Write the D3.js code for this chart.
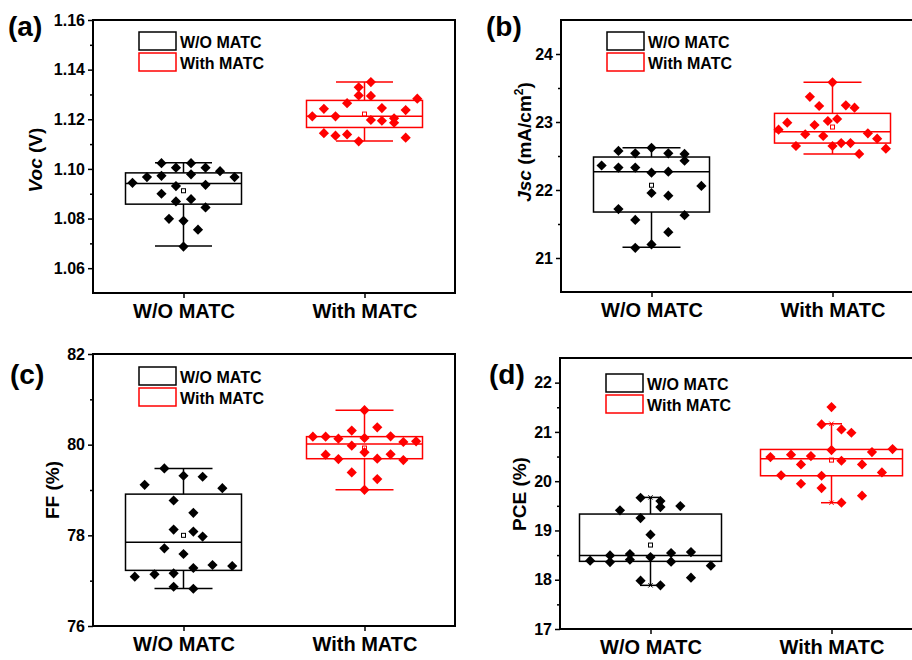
<!DOCTYPE html>
<html>
<head>
<meta charset="utf-8">
<script src="https://cdn.jsdelivr.net/npm/d3@7"></script>
<style>
  body { margin: 0; background: #fff; }
  svg { display: block; font-family: "Liberation Sans", Arial, sans-serif; font-weight: bold; }
</style>
</head>
<body>
<svg id="chart" width="912" height="660"></svg>
<script>
const groups = ["W/O MATC", "With MATC"];
const colors = ["#000000", "#ff0000"];

// box stats per group: [q1, median, q3, whiskerLow, whiskerHigh, mean]
// Voc (V)
const vocWO = [1.1023, 1.1023, 1.1005, 1.1005, 1.0991, 1.0967, 1.0972, 1.0978, 1.0967, 1.0944,
               1.0931, 1.0936, 1.0900, 1.0869, 1.0878, 1.0845, 1.0799, 1.0791, 1.0755, 1.0687];
const vocWOJitter = [-0.38, 0.13, -0.13, 0.38, 0.63, -0.63, -0.38, 0.13, 0.88, -0.88,
                     -0.13, 0.38, -0.38, -0.13, 0.13, 0.38, -0.25, 0, 0.25, 0];
const vocWith = [1.1350, 1.1329, 1.1296, 1.1294, 1.1283, 1.1265, 1.1242, 1.1245, 1.1237, 1.1212,
                 1.1212, 1.1197, 1.1194, 1.1204, 1.1186, 1.1144, 1.1134, 1.1139, 1.1111, 1.1126];
const vocWithJitter = [0.11, -0.10, -0.10, 0.11, 0.91, -0.30, -0.70, 0.30, 0.71, -0.90,
                       -0.50, 0.11, 0.30, 0.51, 0.51, -0.70, -0.50, -0.30, -0.10, 0.71];
const vocBoxes = [[1.0858, 1.0941, 1.0984, 1.0689, 1.1025, 1.0912],
                  [1.1167, 1.1212, 1.1276, 1.1112, 1.1350, 1.1221]];
const vocTicks = [1.06, 1.08, 1.10, 1.12, 1.14, 1.16];

// Jsc (mA/cm2)
const jscWO = [22.574, 22.54, 22.62, 22.54, 22.53, 22.43, 22.36, 22.33, 22.33, 22.255,
               22.27, 22.06, 21.956, 21.917, 21.72, 21.63, 21.56, 21.38, 21.2, 21.15];
const jscWOJitter = [-0.57, -0.28, 0, 0.29, 0.57, 0.57, -0.86, -0.57, -0.28, 0,
                     0.29, 0.86, 0, 0.29, -0.57, 0.57, -0.28, 0.29, 0, -0.28];
const jscWith = [23.583, 23.37, 23.235, 23.245, 23.21, 22.99, 23.015, 23.044, 22.887, 22.956,
                 22.82, 22.794, 22.833, 22.755, 22.647, 22.647, 22.69, 22.69, 22.53, 22.608];
const jscWithJitter = [0, -0.39, -0.23, 0.23, 0.38, -0.78, -0.08, 0.08, -0.93, -0.31,
                       -0.47, -0.16, 0.61, 0.77, -0.63, 0, 0.15, 0.31, 0.46, 0.92];
const jscBoxes = [[21.676, 22.27, 22.485, 21.157, 22.62, 22.07],
                  [22.69, 22.858, 23.127, 22.53, 23.583, 22.926]];
const jscTicks = [21, 22, 23, 24];

// FF (%)
const ffWO = [79.476, 79.314, 79.292, 79.115, 79.041, 78.768, 78.496, 78.127, 78.083, 77.972,
              77.714, 77.588, 77.279, 77.345, 77.323, 77.087, 77.139, 77.161, 76.866, 76.822];
const ffWOJitter = [-0.33, 0, 0.33, -0.67, 0.67, -0.17, 0.17, -0.17, 0.17, 0.33,
                    -0.33, 0, 0.17, 0.5, 0.84, -0.84, -0.5, -0.17, -0.17, 0.17];
const ffWith = [80.76, 80.31, 80.383, 80.177, 80.177, 80.133, 80.147, 80.184, 80.059, 80.074,
                79.978, 79.83, 79.779, 79.786, 79.683, 79.69, 79.66, 79.388, 79.24, 79.004];
const ffWithJitter = [0, -0.22, 0.22, -0.89, -0.67, -0.45, 0, 0.45, 0.67, 0.89,
                      -0.22, 0, -0.67, 0.45, -0.45, 0.22, 0.67, -0.22, 0.22, 0];
const ffBoxes = [[77.227, 77.847, 78.909, 76.829, 79.476, 78.0],
                 [79.69, 80.015, 80.177, 79.004, 80.76, 79.926]];
const ffTicks = [76, 78, 80, 82];

// PCE (%)
const pceWO = [19.664, 19.596, 19.475, 19.495, 19.408, 19.252, 18.914, 18.386, 18.494, 18.359,
               18.521, 18.406, 18.46, 18.542, 18.366, 18.562, 18.285, 18.042, 17.981, 17.886];
const pceWOJitter = [-0.14, 0.14, 0.14, 0.42, -0.43, -0.14, 0, -0.85, -0.57, -0.57,
                     -0.29, -0.29, 0, 0.29, 0.29, 0.57, 0.85, 0.57, -0.14, 0.14];
const pceWith = [21.503, 21.152, 21.05, 20.983, 20.631, 20.59, 20.651, 20.489, 20.537, 20.51,
                 20.415, 20.341, 20.341, 20.118, 20.11, 20.178, 19.948, 19.86, 19.705, 19.563];
const pceWithJitter = [0, -0.14, 0.14, 0.28, 0, 0.57, 0.86, -0.86, -0.57, -0.29,
                       0.14, -0.43, 0.43, -0.71, -0.14, 0.71, -0.43, -0.14, 0.43, 0.14];
const pceBoxes = [[18.373, 18.494, 19.333, 17.886, 19.671, 18.704],
                  [20.11, 20.455, 20.644, 19.563, 21.165, 20.428]];
const pceTicks = [17, 18, 19, 20, 21, 22];

const svg = d3.select("#chart");
svg.append("rect").attr("width", 912).attr("height", 660).attr("fill", "#fff");

const panels = [
  { label: "(a)", labelPos: [8, 36], left: 93, top: 20, bottom: 293, domain: [1.05, 1.16],
    ticks: vocTicks, fmt: d3.format(".2f"), title: "voc", titlePos: [35, 160],
    values: [vocWO, vocWith], jitter: [vocWOJitter, vocWithJitter], boxes: vocBoxes,
    boxW: 116, capW: 57, legendY: 12, xMarks: false },
  { label: "(b)", labelPos: [486, 36], left: 561, top: 20, bottom: 292, domain: [20.5, 24.5],
    ticks: jscTicks, fmt: d3.format("d"), title: "jsc", titlePos: [524, 142],
    values: [jscWO, jscWith], jitter: [jscWOJitter, jscWithJitter], boxes: jscBoxes,
    boxW: 116, capW: 58, legendY: 12, xMarks: false },
  { label: "(c)", labelPos: [10, 384], left: 93, top: 354, bottom: 626, domain: [76, 82],
    ticks: ffTicks, fmt: d3.format("d"), title: "ff", titlePos: [52, 490],
    values: [ffWO, ffWith], jitter: [ffWOJitter, ffWithJitter], boxes: ffBoxes,
    boxW: 116, capW: 58, legendY: 13, xMarks: false },
  { label: "(d)", labelPos: [489, 384], left: 560, top: 358, bottom: 629, domain: [17, 22.5],
    ticks: pceTicks, fmt: d3.format("d"), title: "pce", titlePos: [519, 494],
    values: [pceWO, pceWith], jitter: [pceWOJitter, pceWithJitter], boxes: pceBoxes,
    boxW: 142, capW: 21, legendY: 16, xMarks: true }
];

const plotW = 362;
const diamond = d3.symbol().type(d3.symbolSquare).size(52);

panels.forEach(p => {
  const g = svg.append("g");
  const x = d3.scaleLinear().domain([0.5, 2.5]).range([p.left, p.left + plotW]);
  const y = d3.scaleLinear().domain(p.domain).range([p.bottom, p.top]);

  // frame
  g.append("rect")
    .attr("x", p.left).attr("y", p.top)
    .attr("width", plotW).attr("height", p.bottom - p.top)
    .attr("fill", "none").attr("stroke", "#000").attr("stroke-width", 2);

  // y axis ticks
  const minor = d3.pairs(p.ticks).map(([a, b]) => (a + b) / 2);
  const yAxis = d3.axisLeft(y).tickValues(p.ticks).tickFormat(p.fmt).tickSize(5).tickPadding(3);
  const ya = g.append("g").attr("transform", `translate(${p.left},0)`).call(yAxis);
  ya.select(".domain").remove();
  ya.selectAll("line").attr("stroke-width", 1.5);
  ya.selectAll("text").attr("font-size", 16).attr("font-weight", "bold").attr("fill", "#000")
    .attr("font-family", "Liberation Sans, Arial, sans-serif");
  const ym = g.append("g").attr("transform", `translate(${p.left},0)`)
    .call(d3.axisLeft(y).tickValues(minor).tickFormat("").tickSize(3));
  ym.select(".domain").remove();
  ym.selectAll("line").attr("stroke-width", 1.5);

  // x axis
  const xa = g.append("g").attr("transform", `translate(0,${p.bottom})`)
    .call(d3.axisBottom(x).tickValues([1, 2]).tickFormat((d, i) => groups[i]).tickSize(5).tickPadding(6));
  xa.select(".domain").remove();
  xa.selectAll("line").attr("stroke-width", 1.5);
  xa.selectAll("text").attr("font-size", 20).attr("font-weight", "bold").attr("fill", "#000")
    .attr("font-family", "Liberation Sans, Arial, sans-serif");

  // boxes
  p.boxes.forEach((b, i) => {
    const cx = x(i + 1), col = colors[i];
    const [q1, med, q3, lo, hi, mean] = b;
    const bg = g.append("g").attr("stroke", col).attr("stroke-width", 1.5).attr("fill", "none");
    bg.append("line").attr("x1", cx).attr("x2", cx).attr("y1", y(hi)).attr("y2", y(q3));
    bg.append("line").attr("x1", cx).attr("x2", cx).attr("y1", y(q1)).attr("y2", y(lo));
    [hi, lo].forEach(v => bg.append("line")
      .attr("x1", cx - p.capW / 2).attr("x2", cx + p.capW / 2).attr("y1", y(v)).attr("y2", y(v)));
    bg.append("rect").attr("x", cx - p.boxW / 2).attr("y", y(q3))
      .attr("width", p.boxW).attr("height", y(q1) - y(q3));
    bg.append("line").attr("x1", cx - p.boxW / 2).attr("x2", cx + p.boxW / 2)
      .attr("y1", y(med)).attr("y2", y(med));
    bg.append("rect").attr("x", cx - 2).attr("y", y(mean) - 2)
      .attr("width", 4).attr("height", 4).attr("stroke-width", 1);
    if (p.xMarks) {
      [hi, lo].forEach(v => bg.append("path")
        .attr("transform", `translate(${cx},${y(v)})`)
        .attr("d", d3.symbol().type(d3.symbolX).size(14)()).attr("stroke-width", 1));
    }

    // points
    g.append("g").selectAll("path")
      .data(p.values[i].map((v, k) => ({ v, j: p.jitter[i][k] })))
      .join("path")
      .attr("d", diamond)
      .attr("transform", d => `translate(${cx + d.j * p.boxW / 2},${y(d.v)}) rotate(45)`)
      .attr("fill", col);
  });

  // legend
  groups.forEach((name, i) => {
    const ly = p.top + p.legendY + i * 21;
    g.append("rect").attr("x", p.left + 46).attr("y", ly)
      .attr("width", 37).attr("height", 18)
      .attr("fill", "none").attr("stroke", colors[i]).attr("stroke-width", 1.5);
    g.append("text").attr("x", p.left + 87).attr("y", ly + 16)
      .attr("font-size", 16).text(name);
  });

  // panel label
  svg.append("text").attr("x", p.labelPos[0]).attr("y", p.labelPos[1])
    .attr("font-size", 28).text(p.label);

  // y title
  const t = svg.append("text")
    .attr("transform", `translate(${p.titlePos[0]},${p.titlePos[1]}) rotate(-90)`)
    .attr("text-anchor", "middle").attr("dy", "0.35em").attr("font-size", 19);
  if (p.title === "voc") {
    t.append("tspan").attr("font-style", "italic").text("Voc");
    t.append("tspan").text(" (V)");
  } else if (p.title === "jsc") {
    t.append("tspan").attr("font-style", "italic").text("Jsc");
    t.append("tspan").text(" (mA/cm");
    t.append("tspan").attr("font-size", 12).attr("dy", -8).text("2");
    t.append("tspan").attr("dy", 8).text(")");
  } else if (p.title === "ff") {
    t.text("FF (%)");
  } else {
    t.text("PCE (%)");
  }
});
</script>
</body>
</html>
